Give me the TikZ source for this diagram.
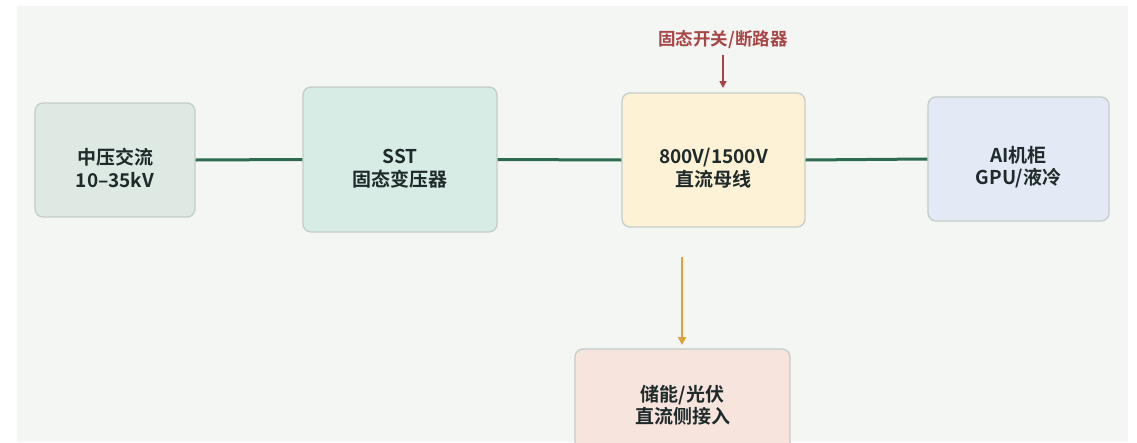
\documentclass[tikz,border=0pt]{standalone}
\usepackage{fontspec}
\setmainfont{Noto Sans CJK SC}[BoldFont={Noto Sans CJK SC Bold}]
\usetikzlibrary{arrows.meta}
\definecolor{bgc}{HTML}{F4F6F4}
\definecolor{txtc}{HTML}{1F2A2A}
\definecolor{bordc}{HTML}{C3CEC7}
\definecolor{fa}{HTML}{DDE9E2}
\definecolor{fb}{HTML}{D8ECE6}
\definecolor{fc}{HTML}{FDF1D6}
\definecolor{fd}{HTML}{E3EAF5}
\definecolor{fe}{HTML}{F6E4DD}
\definecolor{greenc}{HTML}{2D6B4F}
\definecolor{redc}{HTML}{A84646}
\definecolor{orangec}{HTML}{DDA03C}
\begin{document}
\begin{tikzpicture}[x=1pt,y=-1pt,
  blk/.style={draw=bordc, line width=1.3pt, rounded corners=8pt, inner sep=0pt},
  lbl/.style={inner sep=0pt, align=center, text=txtc, font=\bfseries\fontsize{19}{22.5}\selectfont},
  bus/.style={draw=greenc, line width=3pt},
  redarrow/.style={draw=redc, line width=1.6pt, -{Triangle[length=7pt,width=7pt]}},
  orangearrow/.style={draw=orangec, line width=2.6pt, -{Triangle[length=8pt,width=8pt]}}]
\useasboundingbox (0,0) rectangle (1137,442);
\fill[bgc] (17,6) rectangle (1128,442);
\begin{scope}
\clip (17,6) rectangle (1128,442);
\node[blk, fill=fa, minimum width=160pt, minimum height=114pt] (mv) at (115,160) {};
\node[blk, fill=fb, minimum width=194pt, minimum height=145pt] (sst) at (400,159.5) {};
\node[blk, fill=fc, minimum width=183pt, minimum height=134pt] (dc) at (713.5,160) {};
\node[blk, fill=fd, minimum width=181pt, minimum height=124pt] (ai) at (1018.5,159) {};
\node[blk, fill=fe, minimum width=215pt, minimum height=112pt] (st) at (682.5,405) {};
\end{scope}
\node[lbl] (mvt) at ([yshift=-8]mv.center) {中压交流\\10–35kV};
\node[lbl] (sstt) at ([yshift=-9]sst.center) {SST\\固态变压器};
\node[lbl] (dct) at ([yshift=-8]dc.center) {800V/1500V\\直流母线};
\node[lbl] (ait) at ([yshift=-8]ai.center) {AI机柜\\GPU/液冷};
\node[lbl] (stt) at ([yshift=0]st.center) {储能/光伏\\直流侧接入};
\node[text=redc, font=\bfseries\fontsize{17.5}{20}\selectfont, inner sep=0pt] (sw) at (723,40) {固态开关/断路器};
\coordinate (swend) at (723,88);
\coordinate (ostart) at (682,257);
\coordinate (oend) at (682,345);
\draw[bus] (mv.east) -- (sst.west);
\draw[bus] (sst.east) -- (dc.west);
\draw[bus] (dc.east) -- (ai.west);
\draw[redarrow] (723,55) -- (swend);
\draw[orangearrow] (ostart) -- (oend);
\end{tikzpicture}
\end{document}
